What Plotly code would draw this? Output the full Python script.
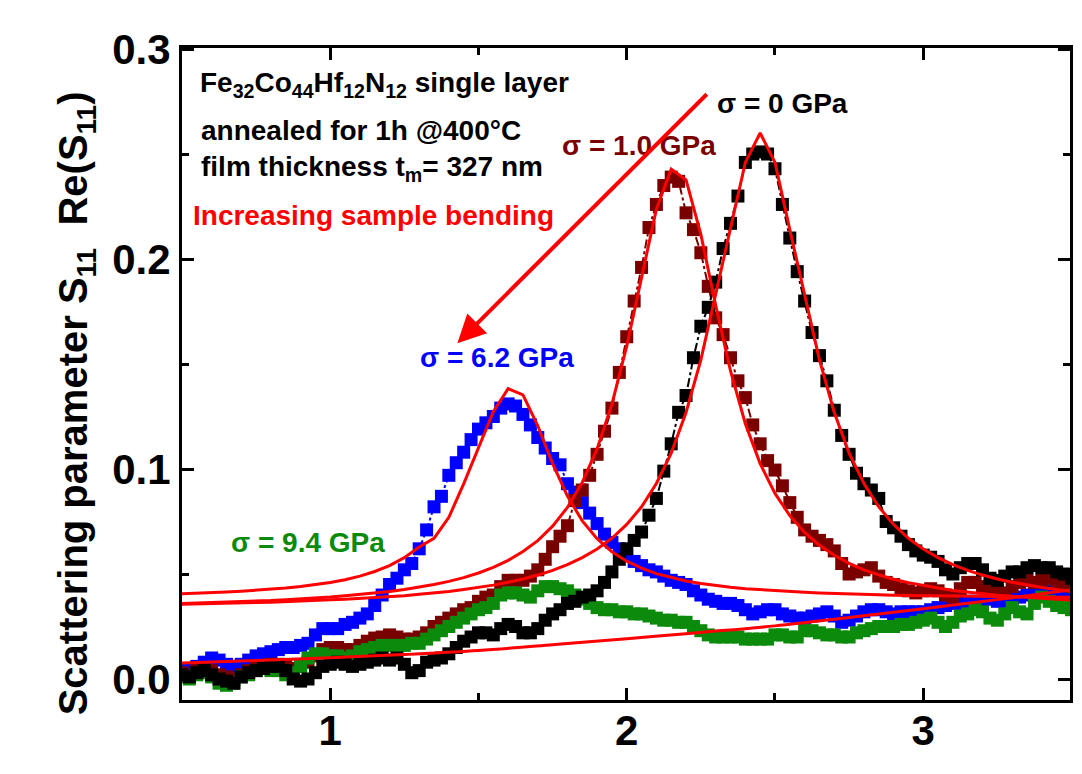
import plotly.graph_objects as go

# ---------------- data ----------------
freq = [
    0.5, 0.525, 0.55, 0.575, 0.6, 0.625, 0.65, 0.675, 0.7, 0.725,
    0.75, 0.775, 0.8, 0.825, 0.85, 0.875, 0.9, 0.925, 0.95, 0.975,
    1.0, 1.025, 1.05, 1.075, 1.1, 1.125, 1.15, 1.175, 1.2, 1.225,
    1.25, 1.275, 1.3, 1.325, 1.35, 1.375, 1.4, 1.425, 1.45, 1.475,
    1.5, 1.525, 1.55, 1.575, 1.6, 1.625, 1.65, 1.675, 1.7, 1.725,
    1.75, 1.775, 1.8, 1.825, 1.85, 1.875, 1.9, 1.925, 1.95, 1.975,
    2.0, 2.025, 2.05, 2.075, 2.1, 2.125, 2.15, 2.175, 2.2, 2.225,
    2.25, 2.275, 2.3, 2.325, 2.35, 2.375, 2.4, 2.425, 2.45, 2.475,
    2.5, 2.525, 2.55, 2.575, 2.6, 2.625, 2.65, 2.675, 2.7, 2.725,
    2.75, 2.775, 2.8, 2.825, 2.85, 2.875, 2.9, 2.925, 2.95, 2.975,
    3.0, 3.025, 3.05, 3.075, 3.1, 3.125, 3.15, 3.175, 3.2, 3.225,
    3.25, 3.275, 3.3, 3.325, 3.35, 3.375, 3.4, 3.425, 3.45, 3.475,
    3.5,
]

re_s11_0gpa = [
    0.002, 0.001, 0.003, 0.004, 0.002, 0.000, -0.001, -0.002, 0.001, 0.003,
    0.004, 0.005, 0.006, 0.006, 0.004, 0.000, -0.001, 0.000, 0.003, 0.006,
    0.007, 0.008, 0.007, 0.006, 0.007, 0.008, 0.009, 0.010, 0.009, 0.010,
    0.007, 0.003, 0.004, 0.008, 0.009, 0.010, 0.012, 0.015, 0.018, 0.020,
    0.022, 0.022, 0.021, 0.024, 0.026, 0.025, 0.022, 0.022, 0.024, 0.028,
    0.031, 0.033, 0.036, 0.037, 0.039, 0.040, 0.042, 0.046, 0.051, 0.057,
    0.062, 0.066, 0.070, 0.078, 0.086, 0.099, 0.112, 0.127, 0.135, 0.153,
    0.168, 0.177, 0.189, 0.205, 0.217, 0.230, 0.246, 0.250, 0.251, 0.250,
    0.243, 0.226, 0.210, 0.194, 0.180, 0.165, 0.154, 0.142, 0.128, 0.116,
    0.107, 0.098, 0.093, 0.090, 0.086, 0.075, 0.072, 0.068, 0.064, 0.061,
    0.059, 0.058, 0.056, 0.052, 0.050, 0.053, 0.055, 0.055, 0.052, 0.048,
    0.047, 0.049, 0.051, 0.051, 0.053, 0.054, 0.053, 0.053, 0.051, 0.050,
    0.048,
]

re_s11_1gpa = [
    0.003, 0.002, 0.004, 0.005, 0.004, 0.002, 0.001, 0.000, 0.002, 0.004,
    0.005, 0.006, 0.007, 0.007, 0.006, 0.005, 0.006, 0.008, 0.011, 0.014,
    0.015, 0.015, 0.014, 0.014, 0.016, 0.018, 0.0195, 0.020, 0.021, 0.020,
    0.019, 0.019, 0.020, 0.022, 0.025, 0.027, 0.029, 0.031, 0.033, 0.034,
    0.037, 0.039, 0.040, 0.044, 0.047, 0.047, 0.047, 0.049, 0.052, 0.057,
    0.063, 0.068, 0.073, 0.085, 0.090, 0.097, 0.107, 0.118, 0.129, 0.146,
    0.163, 0.180, 0.196, 0.215, 0.226, 0.235, 0.239, 0.237, 0.222, 0.214,
    0.203, 0.187, 0.172, 0.164, 0.153, 0.142, 0.134, 0.121, 0.112, 0.104,
    0.0995, 0.092, 0.084, 0.077, 0.071, 0.068, 0.066, 0.064, 0.061, 0.055,
    0.050, 0.051, 0.052, 0.053, 0.049, 0.046, 0.045, 0.043, 0.042, 0.041,
    0.042, 0.043, 0.042, 0.040, 0.039, 0.043, 0.046, 0.046, 0.044, 0.043,
    0.042, 0.041, 0.044, 0.046, 0.047, 0.046, 0.047, 0.048, 0.046, 0.045,
    0.044,
]

re_s11_62gpa = [
    0.004, 0.005, 0.006, 0.008, 0.010, 0.009, 0.007, 0.006, 0.007, 0.009,
    0.011, 0.012, 0.013, 0.014, 0.015, 0.015, 0.016, 0.017, 0.021, 0.024,
    0.024, 0.024, 0.026, 0.027, 0.029, 0.031, 0.035, 0.040, 0.045, 0.048,
    0.052, 0.055, 0.062, 0.071, 0.082, 0.087, 0.097, 0.103, 0.108, 0.114,
    0.119, 0.122, 0.125, 0.129, 0.131, 0.130, 0.126, 0.121, 0.115, 0.110,
    0.105, 0.102, 0.093, 0.089, 0.084, 0.079, 0.074, 0.069, 0.065, 0.062,
    0.059, 0.056, 0.054, 0.052, 0.051, 0.049, 0.047, 0.046, 0.045, 0.042,
    0.040, 0.038, 0.037, 0.036, 0.036, 0.035, 0.033, 0.031, 0.032, 0.033,
    0.033, 0.031, 0.030, 0.029, 0.029, 0.030, 0.031, 0.032, 0.030, 0.027,
    0.028, 0.030, 0.032, 0.033, 0.033, 0.032, 0.031, 0.032, 0.032, 0.032,
    0.032, 0.033, 0.034, 0.035, 0.036, 0.036, 0.037, 0.037, 0.037, 0.038,
    0.037, 0.037, 0.038, 0.039, 0.040, 0.041, 0.042, 0.042, 0.041, 0.041,
    0.040,
]

re_s11_94gpa = [
    0.001, 0.000, 0.002, 0.003, 0.001, -0.002, -0.003, -0.002, 0.001, 0.002,
    0.004, 0.005, 0.004, 0.004, 0.002, 0.003, 0.006, 0.010, 0.012, 0.012,
    0.011, 0.011, 0.010, 0.011, 0.013, 0.014, 0.015, 0.016, 0.016, 0.016,
    0.016, 0.017, 0.017, 0.019, 0.021, 0.023, 0.025, 0.027, 0.029, 0.031,
    0.033, 0.034, 0.036, 0.040, 0.041, 0.041, 0.040, 0.039, 0.042, 0.044,
    0.044, 0.043, 0.042, 0.040, 0.038, 0.036, 0.034, 0.033, 0.033, 0.032,
    0.032, 0.031, 0.031, 0.030, 0.029, 0.028, 0.028, 0.027, 0.027, 0.025,
    0.023, 0.021, 0.020, 0.020, 0.020, 0.020, 0.019, 0.019, 0.019, 0.019,
    0.021, 0.021, 0.020, 0.020, 0.023, 0.023, 0.022, 0.021, 0.021, 0.020,
    0.020, 0.022, 0.023, 0.024, 0.025, 0.025, 0.025, 0.026, 0.026, 0.027,
    0.028, 0.029, 0.027, 0.025, 0.027, 0.030, 0.031, 0.033, 0.032, 0.029,
    0.028, 0.031, 0.034, 0.032, 0.031, 0.036, 0.039, 0.037, 0.035, 0.034,
    0.033,
]

fit_freq = [
    0.5, 0.55, 0.6, 0.65, 0.7, 0.75, 0.8, 0.85, 0.9, 0.95,
    1.0, 1.05, 1.1, 1.15, 1.2, 1.25, 1.3, 1.35, 1.4, 1.45,
    1.5, 1.55, 1.6, 1.65, 1.7, 1.75, 1.8, 1.85, 1.9, 1.95,
    2.0, 2.05, 2.1, 2.15, 2.2, 2.25, 2.3, 2.35, 2.4, 2.45,
    2.5, 2.55, 2.6, 2.65, 2.7, 2.75, 2.8, 2.85, 2.9, 2.95,
    3.0, 3.05, 3.1, 3.15, 3.2, 3.25, 3.3, 3.35, 3.4, 3.45,
    3.5,
]

fit_0gpa = [
    0.0356, 0.0357, 0.0359, 0.0360, 0.0362, 0.0364, 0.0366, 0.0368, 0.0371, 0.0374,
    0.0377, 0.0380, 0.0384, 0.0388, 0.0392, 0.0397, 0.0404, 0.0410, 0.0417, 0.0426,
    0.0436, 0.0447, 0.0461, 0.0476, 0.0495, 0.0517, 0.0545, 0.0578, 0.0619, 0.0670,
    0.0736, 0.0820, 0.0931, 0.1076, 0.1269, 0.1520, 0.1833, 0.2140, 0.2460, 0.2600,
    0.2460, 0.2140, 0.1833, 0.1520, 0.1269, 0.1076, 0.0931, 0.0820, 0.0736, 0.0670,
    0.0619, 0.0578, 0.0545, 0.0517, 0.0495, 0.0476, 0.0461, 0.0447, 0.0436, 0.0426,
    0.0417,
]

fit_1gpa = [
    0.0360, 0.0362, 0.0364, 0.0366, 0.0369, 0.0371, 0.0374, 0.0378, 0.0381, 0.0386,
    0.0390, 0.0396, 0.0402, 0.0409, 0.0417, 0.0426, 0.0437, 0.0450, 0.0465, 0.0483,
    0.0505, 0.0532, 0.0565, 0.0607, 0.0659, 0.0728, 0.0817, 0.0936, 0.1096, 0.1309,
    0.1585, 0.1915, 0.2238, 0.2428, 0.2377, 0.2117, 0.1780, 0.1467, 0.1216, 0.1026,
    0.0884, 0.0778, 0.0698, 0.0637, 0.0589, 0.0551, 0.0520, 0.0496, 0.0475, 0.0459,
    0.0445, 0.0433, 0.0422, 0.0414, 0.0406, 0.0399, 0.0394, 0.0388, 0.0384, 0.0380,
    0.0376,
]

fit_62gpa = [
    0.0406, 0.0408, 0.0411, 0.0414, 0.0418, 0.0422, 0.0427, 0.0433, 0.0440, 0.0449,
    0.0460, 0.0473, 0.0490, 0.0512, 0.0540, 0.0578, 0.0629, 0.0670, 0.0770, 0.0929,
    0.1097, 0.1273, 0.1383, 0.1353, 0.1206, 0.1026, 0.0871, 0.0753, 0.0668, 0.0606,
    0.0561, 0.0528, 0.0502, 0.0483, 0.0467, 0.0455, 0.0445, 0.0437, 0.0430, 0.0425,
    0.0420, 0.0416, 0.0413, 0.0410, 0.0407, 0.0405, 0.0403, 0.0401, 0.0399, 0.0398,
    0.0397, 0.0396, 0.0395, 0.0394, 0.0393, 0.0392, 0.0391, 0.0391, 0.0390, 0.0390,
    0.0389,
]

fit94_freq = [0.5, 0.75, 1.0, 1.25, 1.5, 1.75, 2.0, 2.25, 2.5, 2.75, 3.0, 3.25, 3.5]
fit_94gpa = [0.0076, 0.0088, 0.0101, 0.0117, 0.0136, 0.0163, 0.0192, 0.0222,
             0.0253, 0.0293, 0.0335, 0.0378, 0.0425]

labels = ["\u03c3 = 0 GPa", "\u03c3 = 1.0 GPa", "\u03c3 = 6.2 GPa", "\u03c3 = 9.4 GPa"]
x_ticks = [1, 2, 3]
y_ticks = [0.0, 0.1, 0.2, 0.3]

# ---------------- styling ----------------
FONT = "Liberation Sans, Arial, Helvetica, sans-serif"
C_BLACK = "#000000"
C_MAROON = "#7a0000"
C_BLUE = "#0000ff"
C_GREEN = "#0b8a0b"
C_FIT = "#ff0000"

fig = go.Figure()

def data_trace(y, color):
    return go.Scatter(
        x=freq, y=y, mode="lines+markers",
        line=dict(color=color, width=2, dash="dashdot"),
        marker=dict(symbol="square", size=13, color=color, line=dict(width=0)),
        showlegend=False, hoverinfo="skip",
    )

# draw order (bottom -> top): blue, maroon, green, black
fig.add_trace(data_trace(re_s11_62gpa, C_BLUE))
fig.add_trace(data_trace(re_s11_1gpa, C_MAROON))
fig.add_trace(data_trace(re_s11_94gpa, C_GREEN))
fig.add_trace(data_trace(re_s11_0gpa, C_BLACK))

for fy in (fit_0gpa, fit_1gpa, fit_62gpa):
    fig.add_trace(go.Scatter(x=fit_freq, y=fy, mode="lines",
                             line=dict(color=C_FIT, width=3),
                             showlegend=False, hoverinfo="skip"))
fig.add_trace(go.Scatter(x=fit94_freq, y=fit_94gpa, mode="lines",
                         line=dict(color=C_FIT, width=3, shape="spline"),
                         showlegend=False, hoverinfo="skip"))

axis_common = dict(
    showline=True, linewidth=3, linecolor="black", mirror="ticks",
    ticks="inside", ticklen=12, tickwidth=3, tickcolor="black",
    showgrid=False, zeroline=False,
    tickfont=dict(family=FONT, size=42, color="black", weight="bold"),
)

fig.update_xaxes(range=[0.5, 3.495], tickvals=x_ticks, ticktext=[str(v) for v in x_ticks],
                 ticklabelstandoff=-8,
                 minor=dict(dtick=0.5, tick0=0, ticks="inside", ticklen=7,
                            tickwidth=3, tickcolor="black"),
                 **axis_common)
fig.update_yaxes(range=[-0.01, 0.3005], tickvals=y_ticks,
                 ticktext=["%.1f" % v for v in y_ticks],
                 ticklabelstandoff=0,
                 minor=dict(dtick=0.05, tick0=0, ticks="inside", ticklen=7,
                            tickwidth=3, tickcolor="black"),
                 **axis_common)

ann_font = dict(family=FONT, size=28, weight="bold")
annotations = [
    dict(x=0.554, y=0.2829, xanchor="left", yanchor="middle",
         text="Fe<sub>32</sub>Co<sub>44</sub>Hf<sub>12</sub>N<sub>12</sub> single layer",
         font=dict(color="black", **ann_font)),
    dict(x=0.557, y=0.2614, xanchor="left", yanchor="middle",
         text="annealed for 1h @400\u00b0C", font=dict(color="black", **ann_font)),
    dict(x=0.557, y=0.2429, xanchor="left", yanchor="middle",
         text="film thickness t<sub>m</sub>= 327 nm", font=dict(color="black", **ann_font)),
    dict(x=0.530, y=0.2205, xanchor="left", yanchor="middle",
         text="Increasing sample bending", font=dict(color=C_FIT, **ann_font)),
    dict(x=2.527, y=0.2743, xanchor="center", yanchor="middle",
         text=labels[0], font=dict(color=C_BLACK, **ann_font)),
    dict(x=2.043, y=0.2543, xanchor="center", yanchor="middle",
         text=labels[1], font=dict(color=C_MAROON, **ann_font)),
    dict(x=1.562, y=0.1533, xanchor="center", yanchor="middle",
         text=labels[2], font=dict(color=C_BLUE, **ann_font)),
    dict(x=0.9235, y=0.0648, xanchor="center", yanchor="middle",
         text=labels[3], font=dict(color=C_GREEN, **ann_font)),
]
for a in annotations:
    a.update(xref="x", yref="y", showarrow=False)

# arrow "increasing sample bending"
annotations.append(dict(
    x=1.4288, y=0.1599, ax=2.275, ay=0.2792, xref="x", yref="y", axref="x", ayref="y",
    text="", showarrow=True, arrowhead=2, arrowsize=1.4, arrowwidth=4, arrowcolor=C_FIT,
))

# y-axis title
annotations.append(dict(
    x=(76 - 182) / 891, y=(700 - 403) / 652, xref="paper", yref="paper",
    xanchor="center", yanchor="middle", textangle=-90, showarrow=False,
    text="Scattering parameter S<sub>11</sub>  Re(S<sub>11</sub>)",
    font=dict(family=FONT, size=40, color="black", weight="bold"),
))

fig.update_layout(
    width=1082, height=774,
    margin=dict(l=182, r=9, t=48, b=74),
    paper_bgcolor="white", plot_bgcolor="white",
    showlegend=False,
    annotations=annotations,
)

fig.write_html("out.html")
